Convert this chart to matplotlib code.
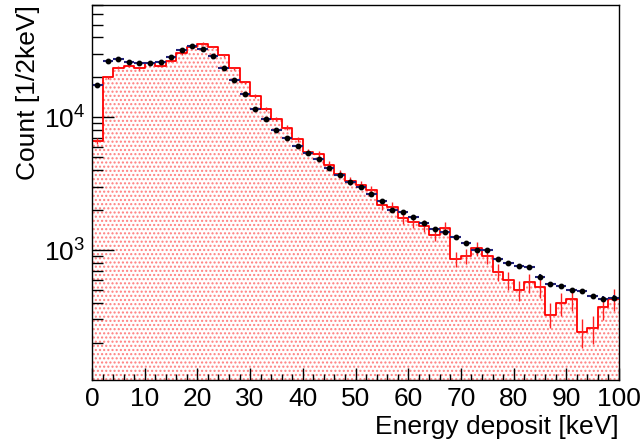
import numpy as np
import matplotlib
matplotlib.use("Agg")
import matplotlib.pyplot as plt
from matplotlib.ticker import LogLocator, NullFormatter, MultipleLocator, FixedLocator

plt.rcParams['font.family'] = ['Liberation Sans', 'DejaVu Sans']
plt.rcParams['mathtext.fontset'] = 'custom'
plt.rcParams['mathtext.rm'] = 'Liberation Sans'
plt.rcParams['hatch.linewidth'] = 1.0

# bin edges (2 keV bins, 0-100 keV)
bin_edges = np.arange(0, 101, 2)
bin_centers = bin_edges[:-1] + 1

# simulation histogram (red)
sim_counts = [6650, 20000, 23650, 24400, 23400, 25500, 24500, 26600, 30300, 34000,
              35900, 34000, 29300, 23500, 18400, 14550, 11550, 9760, 8340, 6830,
              5450, 5320, 4400, 3760, 3310, 3090, 2850, 2180, 2120, 1730,
              1635, 1530, 1310, 1475, 855, 906, 1030, 906, 686, 594,
              497, 571, 524, 327, 396, 427, 242, 257, 370, 425]
sim_weight = 15.0  # weight per simulated event (for Poisson error bars)

# measured data (black points)
data_counts = [17500, 26700, 27300, 26100, 25800, 25800, 26100, 28400, 32100, 34700,
               32700, 29100, 23500, 19100, 15100, 11600, 9700, 8020, 6950, 6110,
               5410, 4820, 4150, 3690, 3270, 2990, 2660, 2350, 2010, 1940,
               1770, 1600, 1440, 1360, 1265, 1125, 1000, 1000, 851, 798,
               757, 740, 630, 551, 536, 497, 489, 448, 427, 434]

sim = np.array(sim_counts, dtype=float)
dat = np.array(data_counts, dtype=float)
sim_err = np.sqrt(sim * sim_weight)
dat_err = np.sqrt(dat)

fig = plt.figure(figsize=(6.41, 4.44), dpi=100)
ax = fig.add_axes([92/641, 1-380/444, (619-92)/641, (380-5)/444])

ymin, ymax = 105, 70200
step_y = np.append(sim, sim[-1])

# dotted pink fill
ax.fill_between(bin_edges, ymin * 0.5, step_y, step='post', facecolor='white',
                edgecolor='#ff7f7f', hatch='....', linewidth=0, zorder=1)
ax.step(bin_edges, step_y, where='post', color='#ff0000', lw=1.3, zorder=3)
ax.errorbar(bin_centers, sim, yerr=sim_err, fmt='none', ecolor='#ff2020',
            elinewidth=1.0, capsize=0, zorder=3)

# data points
ax.errorbar(bin_centers, dat, xerr=1.0, yerr=dat_err, fmt='o', color='black',
            ms=3.2, ecolor='#22227a', elinewidth=1.5, capsize=0, zorder=5)

ax.set_yscale('log')
ax.set_xlim(0, 100)
ax.set_ylim(ymin, ymax)

ax.xaxis.set_major_locator(MultipleLocator(10))
ax.xaxis.set_minor_locator(MultipleLocator(2))
ax.yaxis.set_major_locator(FixedLocator([1e3, 1e4]))
ax.yaxis.set_minor_locator(LogLocator(base=10, subs=np.arange(2, 10), numticks=20))
ax.yaxis.set_minor_formatter(NullFormatter())
ax.set_yticklabels([r'$\mathdefault{10^{3}}$', r'$\mathdefault{10^{4}}$'])

ax.tick_params(axis='both', which='both', direction='in', top=False, right=False,
               labelsize=19, color='black')
ax.tick_params(axis='x', which='major', length=9, width=1, pad=5)
ax.tick_params(axis='x', which='minor', length=4.5, width=1)
ax.tick_params(axis='y', which='major', length=16, width=1, pad=5)
ax.tick_params(axis='y', which='minor', length=8, width=1)

for s in ax.spines.values():
    s.set_linewidth(1.0)
    s.set_zorder(6)

ax.set_xlabel('Energy deposit [keV]', fontsize=19, ha='right')
ax.xaxis.set_label_coords(1.0, -0.093)
ax.set_ylabel('Count [1/2keV]', fontsize=19, ha='right')
ax.yaxis.set_label_coords(-0.098, 1.0)

fig.savefig('out.png', dpi=100)
